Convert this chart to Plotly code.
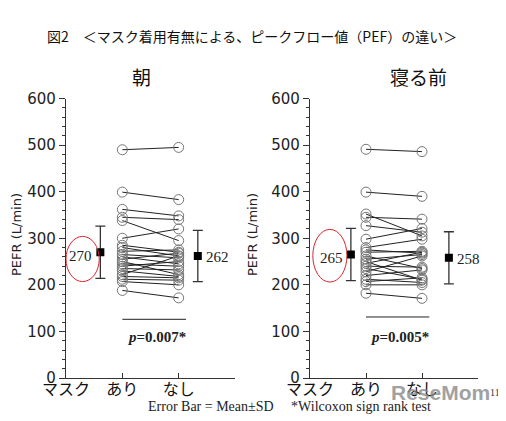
import plotly.graph_objects as go

# 朝 (morning)
am_ari = [490, 399, 362, 345, 338, 300, 285, 280, 272, 265, 260, 255, 250, 245, 240, 235, 230, 222, 218, 212, 207, 188]
am_nashi = [495, 383, 348, 340, 295, 320, 270, 262, 275, 258, 245, 268, 222, 240, 250, 232, 218, 262, 215, 210, 200, 172]
am_mean = [270, 262]
am_sd = [56, 55]

# 寝る前 (before bed)
pm_ari = [491, 399, 352, 345, 327, 298, 280, 275, 270, 262, 255, 250, 246, 240, 235, 228, 220, 212, 207, 200, 182]
pm_nashi = [486, 390, 305, 341, 313, 321, 298, 268, 272, 235, 265, 210, 270, 238, 212, 262, 232, 205, 215, 200, 171]
pm_mean = [265, 258]
pm_sd = [56, 56]

cat_labels = ["マスク", "あり", "なし", ""]
p_values = ["<i>p</i>=0.007*", "<i>p</i>=0.005*"]

JP = "Noto Sans CJK JP"
SERIF = "Liberation Serif"

# page has an 8px body margin, so the figure is a bit smaller than the window
W, H, OFF = 498, 413, 8


def px(x):
    return (x - OFF) / W


def py(y):
    return 1 - (y - OFF) / H


fig = go.Figure()

panels = [
    (am_ari, am_nashi, am_mean, am_sd, [0.61, 2.34], "x", "y", p_values[0], 126, [0.0, 0.59, 207, 304]),
    (pm_ari, pm_nashi, pm_mean, pm_sd, [0.73, 2.48], "x2", "y2", p_values[1], 131, [0.05, 0.66, 206, 319]),
]

for ari, nashi, mean, sd, mx, xa, ya, ptxt, pline, ell in panels:
    lx, ly = [], []
    for a, n in zip(ari, nashi):
        lx += [1, 2, None]
        ly += [a, n, None]
    fig.add_trace(go.Scatter(x=lx, y=ly, mode="lines", xaxis=xa, yaxis=ya,
                             line=dict(color="#222", width=1), showlegend=False))
    fig.add_trace(go.Scatter(x=[1] * len(ari) + [2] * len(nashi), y=ari + nashi,
                             mode="markers", xaxis=xa, yaxis=ya, showlegend=False,
                             marker=dict(symbol="circle-open", size=10,
                                         line=dict(color="#777", width=1), color="#777")))
    fig.add_trace(go.Scatter(x=mx, y=mean, mode="markers", xaxis=xa, yaxis=ya, showlegend=False,
                             marker=dict(symbol="square", size=8, color="black"),
                             error_y=dict(type="data", array=sd, color="#333",
                                          thickness=1.3, width=5)))
    # value labels next to means
    fig.add_annotation(x=mx[0], y=mean[0] - 8, xref=xa, yref=ya, text=str(mean[0]),
                       showarrow=False, xanchor="right", xshift=-6,
                       font=dict(family=SERIF, size=15, color="#222"))
    fig.add_annotation(x=mx[1], y=mean[1] - 2, xref=xa, yref=ya, text=str(mean[1]),
                       showarrow=False, xanchor="left", xshift=6,
                       font=dict(family=SERIF, size=15, color="#222"))
    # red ellipse round the mask-on value
    fig.add_shape(type="circle", xref=xa, yref=ya, x0=ell[0], x1=ell[1], y0=ell[2], y1=ell[3],
                  line=dict(color="#d9262c", width=1))
    # p value bracket
    fig.add_shape(type="line", xref=xa, yref=ya, x0=1, x1=2.13, y0=pline, y1=pline,
                  line=dict(color="#222", width=1))
    fig.add_annotation(x=1.6, y=87, xref=xa, yref=ya, text="<b>" + ptxt + "</b>",
                       showarrow=False, font=dict(family=SERIF, size=15, color="#222"))

xcommon = dict(range=[0, 3], tickvals=[0, 1, 2, 3], ticktext=cat_labels, showline=True,
               linecolor="#333", linewidth=1.2, ticks="inside", ticklen=5, tickcolor="#333",
               showgrid=False, zeroline=False, automargin=False, ticklabelstandoff=-3,
               tickfont=dict(family=JP, size=16, color="#111"))
ycommon = dict(range=[0, 600], dtick=100, showline=True, linecolor="#333", linewidth=1.2,
               ticks="outside", ticklen=6, tickcolor="#333", showgrid=False, zeroline=False,
               automargin=False, tickfont=dict(family="DejaVu Sans", size=15, color="#222"),
               minor=dict(dtick=20, ticks="outside", ticklen=3, tickcolor="#333"))

fig.update_layout(
    width=W, height=H,
    margin=dict(l=0, r=0, t=0, b=0),
    paper_bgcolor="white", plot_bgcolor="white",
    xaxis=dict(domain=[px(66), px(235)], anchor="y", **xcommon),
    yaxis=dict(domain=[py(378), py(98.5)], anchor="x", **ycommon),
    xaxis2=dict(domain=[px(310), px(478)], anchor="y2", **xcommon),
    yaxis2=dict(domain=[py(378), py(98.5)], anchor="x2", **ycommon),
)


def label(x, y, text, font, **kw):
    fig.add_annotation(x=px(x), y=py(y), xref="paper", yref="paper", showarrow=False,
                       xanchor="center", yanchor="middle", text=text, font=font, **kw)


label(252, 36, "図2　＜マスク着用有無による、ピークフロー値（PEF）の違い＞",
      dict(family=JP, size=14, color="#111"))
label(141, 77, "朝", dict(family=JP, size=19, color="#111"))
label(418, 77, "寝る前", dict(family=JP, size=19, color="#111"))
for x in [17, 253]:
    label(x, 235, "PEFR (L/min)", dict(family="DejaVu Sans", size=13, color="#222"),
          textangle=-90)
label(289, 406, "Error Bar = Mean±SD　 *Wilcoxon sign rank test",
      dict(family=SERIF, size=14, color="#222"))
label(440, 392, "<b>ReseMom</b>", dict(family="Liberation Sans", size=21, color="#8a8a8a"),
      opacity=0.8)
label(495, 392, "11", dict(family=SERIF, size=10, color="#333"))

fig.write_html("out.html")
